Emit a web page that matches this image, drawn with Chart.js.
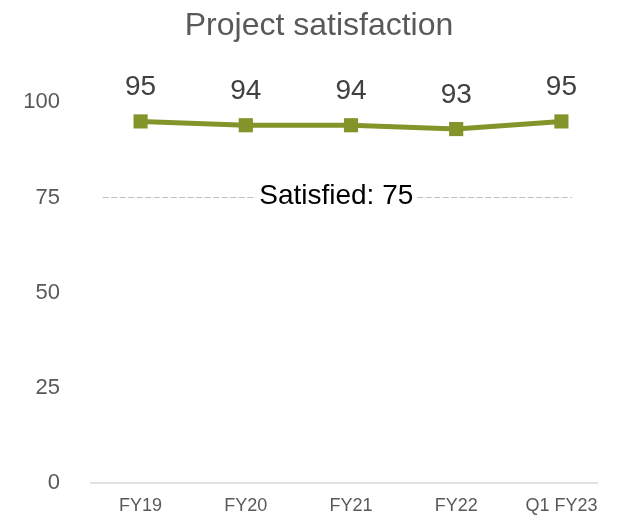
<!DOCTYPE html>
<html>
<head>
<meta charset="utf-8">
<script src="https://cdn.jsdelivr.net/npm/chart.js@4/dist/chart.umd.min.js"></script>
<style>
  html, body { margin: 0; padding: 0; background: #fff; overflow: hidden; }
  canvas { display: block; }
</style>
</head>
<body>
<canvas id="chart" width="638" height="516"></canvas>
<script>
// Survey results per period
const categories = ['FY19', 'FY20', 'FY21', 'FY22', 'Q1 FY23'];
const satisfaction = [95, 94, 94, 93, 95];

// Value axis ticks
const yTicks = [0, 25, 50, 75, 100];

// "Satisfied" threshold reference line (x in category positions)
const thresholdValue = 75;
const thresholdLabel = 'Satisfied: 75';
const thresholdSpan = [-0.36, 4.1];
const thresholdLabelAt = 1.86;

// Horizontal baseline under the plot (x in category positions)
const baselineSpan = [-0.48, 4.35];

const FONT = "'Liberation Sans', Arial, sans-serif";
const OLIVE = '#84942A';
const CLEAR = 'rgba(0,0,0,0)';

const annotations = {
  id: 'annotations',
  afterDatasetsDraw(chart) {
    const { ctx, scales: { x, y } } = chart;
    ctx.save();
    // Value labels above each point
    ctx.font = '28px ' + FONT;
    ctx.fillStyle = '#404040';
    ctx.textAlign = 'center';
    ctx.textBaseline = 'middle';
    satisfaction.forEach((v, i) => {
      ctx.fillText(String(v), x.getPixelForValue(i), y.getPixelForValue(v) - 34);
    });
    // Threshold label with white backing
    const lx = x.getPixelForValue(thresholdLabelAt);
    const ly = y.getPixelForValue(thresholdValue);
    const w = ctx.measureText(thresholdLabel).width;
    ctx.fillStyle = '#ffffff';
    ctx.fillRect(lx - w / 2 - 3, ly - 16, w + 6, 32);
    ctx.fillStyle = '#000000';
    ctx.fillText(thresholdLabel, lx, ly - 1);
    ctx.restore();
  }
};

new Chart(document.getElementById('chart'), {
  type: 'line',
  data: {
    datasets: [
      {
        label: 'Project satisfaction',
        data: satisfaction.map((v, i) => ({ x: i, y: v })),
        borderColor: OLIVE,
        backgroundColor: OLIVE,
        borderWidth: 5,
        pointStyle: 'rect',
        pointRadius: 10,
        pointBorderWidth: 0,
        pointBackgroundColor: OLIVE,
        tension: 0,
        order: 1,
        clip: false
      },
      {
        label: 'Satisfied',
        data: thresholdSpan.map(xv => ({ x: xv, y: thresholdValue })),
        borderColor: '#BFBFBF',
        borderWidth: 1,
        borderDash: [6, 2.5],
        pointRadius: 0,
        order: 3
      },
      {
        label: 'Baseline',
        data: baselineSpan.map(xv => ({ x: xv, y: 0 })),
        borderColor: '#D9D9D9',
        borderWidth: 1.5,
        pointRadius: 0,
        order: 4,
        clip: false
      }
    ]
  },
  options: {
    responsive: false,
    devicePixelRatio: 1,
    animation: false,
    layout: { autoPadding: false, padding: { left: 24, right: 24, top: 0, bottom: 0 } },
    plugins: {
      legend: { display: false },
      tooltip: { enabled: false },
      title: {
        display: true,
        text: 'Project satisfaction',
        color: '#595959',
        font: { family: FONT, size: 32, weight: 'normal' },
        padding: { top: 7, bottom: 57 }
      }
    },
    scales: {
      x: {
        type: 'linear',
        min: -0.5,
        max: 4.5,
        afterBuildTicks(scale) {
          scale.ticks = categories.map((_, i) => ({ value: i }));
        },
        afterFit(scale) { scale.height = 33; },
        grid: { display: false, drawTicks: false },
        border: { display: false },
        ticks: {
          padding: 12,
          color: '#595959',
          font: { family: FONT, size: 18 },
          maxRotation: 0,
          autoSkip: false,
          callback: (v) => categories[v] ?? ''
        }
      },
      y: {
        min: 0,
        max: 100,
        afterBuildTicks(scale) {
          scale.ticks = yTicks.map(v => ({ value: v }));
        },
        afterFit(scale) { scale.width = 64; },
        // invisible tick marks provide the gap between labels and plot
        grid: { display: true, drawOnChartArea: false, drawTicks: true, tickLength: 28, color: CLEAR },
        border: { display: false },
        ticks: {
          padding: 0,
          color: '#595959',
          font: { family: FONT, size: 22 }
        }
      }
    }
  },
  plugins: [annotations]
});
</script>
</body>
</html>
